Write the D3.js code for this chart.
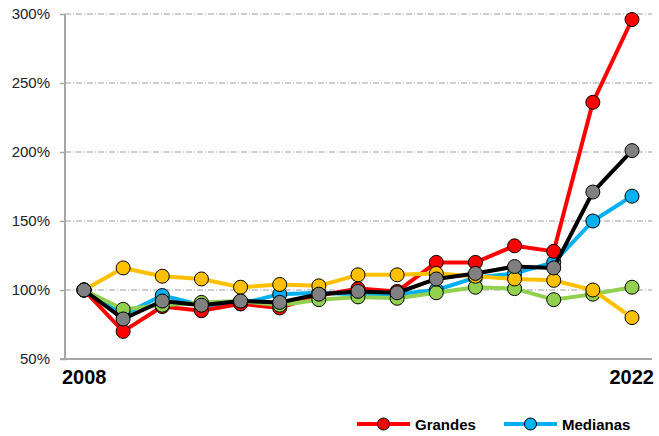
<!DOCTYPE html>
<html>
<head>
<meta charset="utf-8">
<script src="https://cdn.jsdelivr.net/npm/d3@7"></script>
<style>
  body { margin: 0; background: #fff; }
  svg { display: block; font-family: "Liberation Sans", Arial, sans-serif; }
</style>
</head>
<body>
<div id="chart"></div>
<script>
  ////////////////////////////////////////////////////////////////////////////////////////////////////////////
  //
  // Data
  //
  var years = [2008, 2009, 2010, 2011, 2012, 2013, 2014, 2015, 2016, 2017, 2018, 2019, 2020, 2021, 2022];
  var y_ticks = [50, 100, 150, 200, 250, 300];

  var medianas = [100, 82, 96, 89, 90, 97, 98, 97, 97, 100, 109, 112, 120, 150, 168];
  var grandes = [100, 70, 88, 85, 90, 87, 96, 101, 99, 120, 120, 132, 128, 236, 296];
  var verde = [100, 86, 89, 91, 92, 89, 93, 95, 94, 98, 102, 101, 93, 97, 102];
  var amarillo = [100, 116, 110, 108, 102, 104, 103, 111, 111, 112, 110, 108, 107, 100, 80];
  var total = [100, 79, 92, 89, 92, 91, 97, 99, 98, 108, 112, 117, 116, 171, 201];

  // drawing order: first one ends up at the bottom
  var series = [
    { name: "Medianas", values: medianas, line: "#00b0f0", dot: "#00b0f0" },
    { name: "Grandes", values: grandes, line: "#ff0000", dot: "#ff0000" },
    { name: "", values: verde, line: "#92d050", dot: "#92d050" },
    { name: "", values: amarillo, line: "#ffc000", dot: "#ffc000" },
    { name: "", values: total, line: "#000000", dot: "#808080" }
  ];
  var legend_items = [series[1], series[0]];

  ////////////////////////////////////////////////////////////////////////////////////////////////////////////
  //
  // Layout
  //
  var w = 659;
  var h = 436;
  var x_left = 65;    // y axis position
  var x_right = 652;  // end of gridlines and x axis
  var y_top = 14;
  var y_bottom = 359;
  var r = 7;

  var svg = d3.select("#chart").append("svg")
    .attr("width", w)
    .attr("height", h);

  var x = d3.scalePoint()
    .domain(years)
    .range([84, 632]);

  var y = d3.scaleLinear()
    .domain([50, 300])
    .range([y_bottom, y_top]);

  // Gridlines
  svg.append("g")
    .selectAll("line")
    .data(y_ticks.filter(function (d) { return d > 50; }))
    .enter()
    .append("line")
    .attr("x1", x_left)
    .attr("x2", x_right)
    .attr("y1", function (d) { return y(d); })
    .attr("y2", function (d) { return y(d); })
    .style("stroke", "#bfbfbf")
    .style("stroke-width", 1.3)
    .style("stroke-dasharray", "6,2,1,2");

  // Y axis
  var y_axis = svg.append("g")
    .attr("transform", "translate(" + x_left + ",0)")
    .call(d3.axisLeft(y).tickValues(y_ticks).tickSize(5).tickPadding(10).tickFormat(function (d) { return d + "%"; }));
  y_axis.select(".domain").style("stroke", "#a6a6a6").style("stroke-width", 2).attr("d", "M0," + y_top + "V" + y_bottom);
  y_axis.selectAll(".tick line").style("stroke", "#a6a6a6").style("stroke-width", 1.5);
  y_axis.selectAll(".tick text")
    .style("font-size", "15px")
    .style("fill", "#222")
    .style("font-family", "'Liberation Sans', Arial, sans-serif");

  // X axis line
  svg.append("line")
    .attr("x1", x_left - 5)
    .attr("x2", x_right)
    .attr("y1", y_bottom)
    .attr("y2", y_bottom)
    .style("stroke", "#a6a6a6")
    .style("stroke-width", 2);

  // X labels: only the first and the last year
  svg.append("text")
    .attr("x", 62)
    .attr("y", 384)
    .style("font-size", "20px")
    .style("font-weight", "bold")
    .style("fill", "#000")
    .text(years[0]);
  svg.append("text")
    .attr("x", 654)
    .attr("y", 384)
    .attr("text-anchor", "end")
    .style("font-size", "20px")
    .style("font-weight", "bold")
    .style("fill", "#000")
    .text(years[years.length - 1]);

  // Lines and markers
  var line = d3.line()
    .x(function (d, i) { return x(years[i]); })
    .y(function (d) { return y(d); });

  series.forEach(function (s) {
    var g = svg.append("g");
    g.append("path")
      .datum(s.values)
      .attr("d", line)
      .style("fill", "none")
      .style("stroke", s.line)
      .style("stroke-width", 4)
      .style("stroke-linejoin", "round");
    g.selectAll("circle")
      .data(s.values)
      .enter()
      .append("circle")
      .attr("cx", function (d, i) { return x(years[i]); })
      .attr("cy", function (d) { return y(d); })
      .attr("r", r)
      .style("fill", s.dot)
      .style("stroke", "#000")
      .style("stroke-width", 1);
  });

  // Legend
  var legend_x = [357, 504];
  legend_items.forEach(function (s, i) {
    var g = svg.append("g").attr("transform", "translate(" + legend_x[i] + ",424)");
    g.append("line")
      .attr("x1", 0)
      .attr("x2", 53)
      .style("stroke", s.line)
      .style("stroke-width", 4);
    g.append("circle")
      .attr("cx", 26.5)
      .attr("r", 6)
      .style("fill", s.dot)
      .style("stroke", "#000")
      .style("stroke-width", 1);
    g.append("text")
      .attr("x", 58)
      .attr("y", 5.5)
      .style("font-size", "15px")
      .style("font-weight", "bold")
      .style("fill", "#000")
      .text(s.name);
  });
</script>
</body>
</html>
